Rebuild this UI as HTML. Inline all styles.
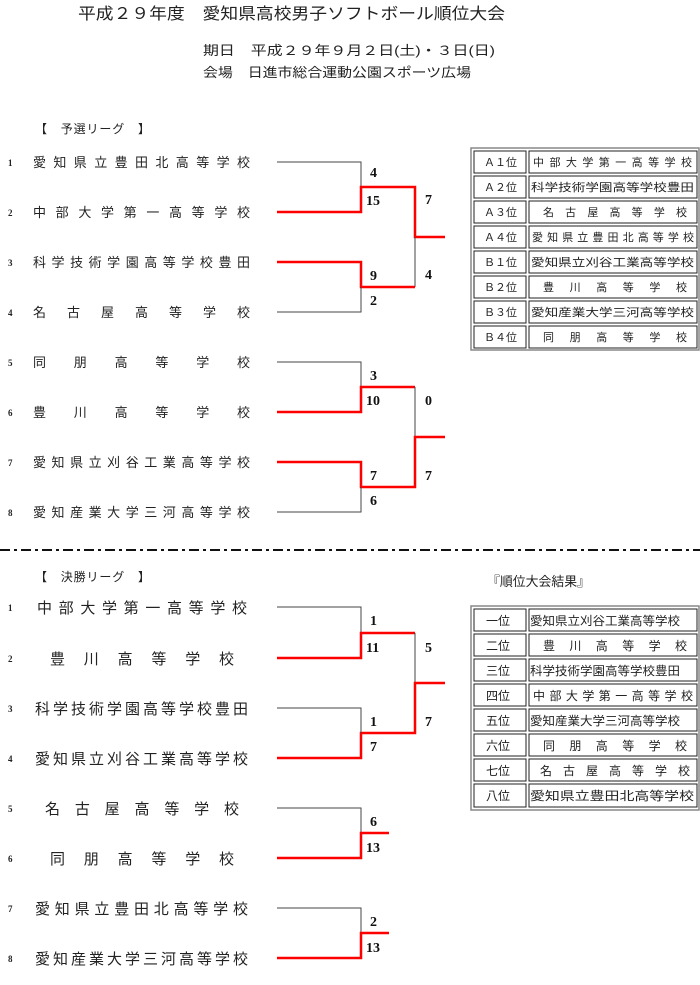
<!DOCTYPE html>
<html><head><meta charset="utf-8"><style>
html,body{margin:0;padding:0;background:#fff;}
svg{display:block;}
.j{font-family:"Liberation Sans","Noto Sans CJK JP",sans-serif;fill:#222;}
.n{font-family:"Liberation Serif",serif;font-weight:bold;fill:#111;font-size:14px;}
.s{font-family:"Liberation Serif",serif;fill:#222;font-size:9px;font-weight:bold;}
.k{stroke:#444;stroke-width:1;fill:none;}
.r{stroke:#f00;stroke-width:2.5;fill:none;}
</style></head><body>
<svg width="700" height="985" viewBox="0 0 700 985" xmlns="http://www.w3.org/2000/svg">
<text class="j" x="78" y="19" font-size="16" textLength="427" lengthAdjust="spacingAndGlyphs">平成２９年度　愛知県高校男子ソフトボール順位大会</text>
<text class="j" x="203" y="55" font-size="13" textLength="292" lengthAdjust="spacingAndGlyphs">期日　平成２９年９月２日(土)・３日(日)</text>
<text class="j" x="203" y="77" font-size="13" textLength="268" lengthAdjust="spacingAndGlyphs">会場　日進市総合運動公園スポーツ広場</text>
<text class="j" x="35" y="133" font-size="12" textLength="115" lengthAdjust="spacing">【　予選リーグ　】</text>

<g class="s">
<text x="8" y="166">1</text><text x="8" y="216">2</text><text x="8" y="266">3</text><text x="8" y="316">4</text>
<text x="8" y="366">5</text><text x="8" y="416">6</text><text x="8" y="466">7</text><text x="8" y="516">8</text>
</g>
<g class="j" font-size="13">
<text x="33" y="167" textLength="217" lengthAdjust="spacing">愛知県立豊田北高等学校</text>
<text x="33" y="217" textLength="217" lengthAdjust="spacing">中部大学第一高等学校</text>
<text x="33" y="267" textLength="217" lengthAdjust="spacing">科学技術学園高等学校豊田</text>
<text x="33" y="317" textLength="217" lengthAdjust="spacing">名古屋高等学校</text>
<text x="33" y="367" textLength="217" lengthAdjust="spacing">同朋高等学校</text>
<text x="33" y="417" textLength="217" lengthAdjust="spacing">豊川高等学校</text>
<text x="33" y="467" textLength="217" lengthAdjust="spacing">愛知県立刈谷工業高等学校</text>
<text x="33" y="517" textLength="217" lengthAdjust="spacing">愛知産業大学三河高等学校</text>
</g>
<polyline class="k" points="277,162 361,162 361,187"/>
<polyline class="r" points="277,212 361,212 361,187 415,187 415,237 445,237"/>
<polyline class="k" points="415,237 415,287"/>
<polyline class="r" points="277,262 361,262 361,287 415,287"/>
<polyline class="k" points="277,312 361,312 361,287"/>
<polyline class="k" points="277,362 361,362 361,387"/>
<polyline class="r" points="277,412 361,412 361,387 415,387"/>
<polyline class="k" points="415,387 415,437"/>
<polyline class="r" points="445,437 415,437 415,487 361,487 361,462 277,462"/>
<polyline class="k" points="361,487 361,512 277,512"/>
<g class="n">
<text x="370" y="177">4</text><text x="366" y="205">15</text><text x="370" y="280">9</text><text x="370" y="305">2</text>
<text x="425" y="204">7</text><text x="425" y="279">4</text>
<text x="370" y="380">3</text><text x="366" y="405">10</text><text x="370" y="480">7</text><text x="370" y="505">6</text>
<text x="425" y="405">0</text><text x="425" y="480">7</text>
</g>

<rect x="471" y="148" width="228" height="202" fill="none" stroke="#888" stroke-width="1.5"/>
<g fill="none" stroke="#222" stroke-width="1">
<rect x="474" y="151" width="52" height="22"/><rect x="529" y="151" width="168" height="22"/>
<rect x="474" y="176" width="52" height="22"/><rect x="529" y="176" width="168" height="22"/>
<rect x="474" y="201" width="52" height="22"/><rect x="529" y="201" width="168" height="22"/>
<rect x="474" y="226" width="52" height="22"/><rect x="529" y="226" width="168" height="22"/>
<rect x="474" y="251" width="52" height="22"/><rect x="529" y="251" width="168" height="22"/>
<rect x="474" y="276" width="52" height="22"/><rect x="529" y="276" width="168" height="22"/>
<rect x="474" y="301" width="52" height="22"/><rect x="529" y="301" width="168" height="22"/>
<rect x="474" y="326" width="52" height="22"/><rect x="529" y="326" width="168" height="22"/>
</g>
<g class="j" font-size="11">
<text x="484" y="166" textLength="33" lengthAdjust="spacingAndGlyphs">Ａ１位</text><text x="484" y="191" textLength="33" lengthAdjust="spacingAndGlyphs">Ａ２位</text><text x="484" y="216" textLength="33" lengthAdjust="spacingAndGlyphs">Ａ３位</text><text x="484" y="241" textLength="33" lengthAdjust="spacingAndGlyphs">Ａ４位</text>
<text x="484" y="266" textLength="33" lengthAdjust="spacingAndGlyphs">Ｂ１位</text><text x="484" y="291" textLength="33" lengthAdjust="spacingAndGlyphs">Ｂ２位</text><text x="484" y="316" textLength="33" lengthAdjust="spacingAndGlyphs">Ｂ３位</text><text x="484" y="341" textLength="33" lengthAdjust="spacingAndGlyphs">Ｂ４位</text>
<text x="533" y="166" textLength="159" lengthAdjust="spacing">中部大学第一高等学校</text>
<text x="531" y="191" textLength="163" lengthAdjust="spacingAndGlyphs">科学技術学園高等学校豊田</text>
<text x="543" y="216" textLength="144" lengthAdjust="spacing">名古屋高等学校</text>
<text x="532" y="241" textLength="162" lengthAdjust="spacing">愛知県立豊田北高等学校</text>
<text x="531" y="266" textLength="163" lengthAdjust="spacingAndGlyphs">愛知県立刈谷工業高等学校</text>
<text x="543" y="291" textLength="144" lengthAdjust="spacing">豊川高等学校</text>
<text x="531" y="316" textLength="163" lengthAdjust="spacingAndGlyphs">愛知産業大学三河高等学校</text>
<text x="543" y="341" textLength="144" lengthAdjust="spacing">同朋高等学校</text>
</g>

<line x1="0" y1="550" x2="700" y2="550" stroke="#111" stroke-width="2" stroke-dasharray="10,4,3,4"/>

<text class="j" x="35" y="581" font-size="12" textLength="115" lengthAdjust="spacing">【　決勝リーグ　】</text>
<text class="j" x="487" y="586" font-size="13" textLength="103" lengthAdjust="spacingAndGlyphs">『順位大会結果』</text>

<g class="s">
<text x="8" y="611">1</text><text x="8" y="662">2</text><text x="8" y="712">3</text><text x="8" y="762">4</text>
<text x="8" y="812">5</text><text x="8" y="862">6</text><text x="8" y="912">7</text><text x="8" y="962">8</text>
</g>
<g class="j" font-size="15">
<text x="37" y="613" textLength="210" lengthAdjust="spacing">中部大学第一高等学校</text>
<text x="50" y="664" textLength="184" lengthAdjust="spacing">豊川高等学校</text>
<text x="35" y="714" textLength="213" lengthAdjust="spacing">科学技術学園高等学校豊田</text>
<text x="35" y="764" textLength="213" lengthAdjust="spacing">愛知県立刈谷工業高等学校</text>
<text x="45" y="814" textLength="194" lengthAdjust="spacing">名古屋高等学校</text>
<text x="50" y="864" textLength="184" lengthAdjust="spacing">同朋高等学校</text>
<text x="35" y="914" textLength="213" lengthAdjust="spacing">愛知県立豊田北高等学校</text>
<text x="35" y="964" textLength="213" lengthAdjust="spacing">愛知産業大学三河高等学校</text>
</g>
<polyline class="k" points="277,607 361,607 361,633"/>
<polyline class="r" points="277,658 361,658 361,633 415,633"/>
<polyline class="k" points="415,633 415,683"/>
<polyline class="r" points="445,683 415,683 415,733 361,733 361,758 277,758"/>
<polyline class="k" points="277,708 361,708 361,733"/>
<polyline class="k" points="277,808 361,808 361,833"/>
<polyline class="r" points="277,858 361,858 361,833 389,833"/>
<polyline class="k" points="277,908 361,908 361,933"/>
<polyline class="r" points="277,958 361,958 361,933 389,933"/>
<g class="n">
<text x="370" y="625">1</text><text x="366" y="652">11</text><text x="425" y="652">5</text>
<text x="370" y="726">1</text><text x="370" y="751">7</text><text x="425" y="726">7</text>
<text x="370" y="826">6</text><text x="366" y="852">13</text>
<text x="370" y="926">2</text><text x="366" y="952">13</text>
</g>

<rect x="471" y="606" width="228" height="204" fill="none" stroke="#888" stroke-width="1.5"/>
<g fill="none" stroke="#222" stroke-width="1">
<rect x="474" y="609" width="52" height="22"/><rect x="529" y="609" width="168" height="22"/>
<rect x="474" y="634" width="52" height="22"/><rect x="529" y="634" width="168" height="22"/>
<rect x="474" y="659" width="52" height="22"/><rect x="529" y="659" width="168" height="22"/>
<rect x="474" y="684" width="52" height="22"/><rect x="529" y="684" width="168" height="22"/>
<rect x="474" y="709" width="52" height="22"/><rect x="529" y="709" width="168" height="22"/>
<rect x="474" y="734" width="52" height="22"/><rect x="529" y="734" width="168" height="22"/>
<rect x="474" y="759" width="52" height="22"/><rect x="529" y="759" width="168" height="22"/>
<rect x="474" y="784" width="52" height="23"/><rect x="529" y="784" width="168" height="23"/>
</g>
<g class="j" font-size="12">
<text x="486" y="625">一位</text><text x="486" y="650">二位</text><text x="486" y="675">三位</text><text x="486" y="700">四位</text>
<text x="486" y="725">五位</text><text x="486" y="750">六位</text><text x="486" y="775">七位</text><text x="486" y="800">八位</text>
<text x="530" y="625" textLength="150" lengthAdjust="spacingAndGlyphs">愛知県立刈谷工業高等学校</text>
<text x="543" y="650" textLength="144" lengthAdjust="spacing">豊川高等学校</text>
<text x="530" y="675" textLength="150" lengthAdjust="spacingAndGlyphs">科学技術学園高等学校豊田</text>
<text x="533" y="700" textLength="160" lengthAdjust="spacing">中部大学第一高等学校</text>
<text x="530" y="725" textLength="150" lengthAdjust="spacingAndGlyphs">愛知産業大学三河高等学校</text>
<text x="543" y="750" textLength="144" lengthAdjust="spacing">同朋高等学校</text>
<text x="540" y="775" textLength="150" lengthAdjust="spacing">名古屋高等学校</text>
<text x="530" y="800" textLength="164" lengthAdjust="spacingAndGlyphs">愛知県立豊田北高等学校</text>
</g>
</svg>
</body></html>
